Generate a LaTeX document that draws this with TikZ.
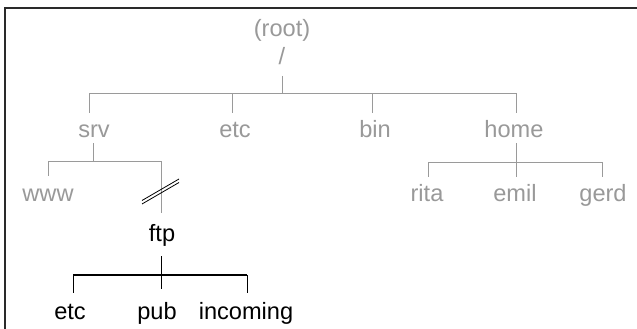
\documentclass[tikz,border=0pt]{standalone}
\usepackage{fontspec}
\setmainfont{Liberation Sans}
\definecolor{tgray}{HTML}{999999}
\definecolor{lgray}{HTML}{9A9A9A}
\definecolor{frame}{HTML}{2A2A2A}
\begin{document}
\begin{tikzpicture}[x=1pt,y=-1pt,
  lbl/.style={anchor=base,inner sep=0pt,font=\fontsize{23.6}{24}\selectfont},
  glbl/.style={lbl,text=tgray},
  blbl/.style={lbl,text=black},
  gl/.style={draw=lgray,line width=0.9pt},
  bl/.style={draw=black,line width=0.9pt},
  bbus/.style={draw=black,line width=1.8pt}]
\useasboundingbox (0,0) rectangle (637,329);
\fill[white] (0,0) rectangle (637,329);
% frame
\draw[frame,line width=1.6pt] (640,8) -- (5,8) -- (5,335);
% labels
\node[glbl] (root) at (282,37) {(root)};
\node[glbl] (slash) at (282,64) {/};
\node[glbl] (srv) at (94,137) {srv};
\node[glbl] (etc1) at (235,137) {etc};
\node[glbl] (bin) at (375,137) {bin};
\node[glbl] (home) at (514,137) {home};
\node[glbl] (www) at (48,201) {www};
\node[glbl] (rita) at (427,201) {rita};
\node[glbl] (emil) at (515,201) {emil};
\node[glbl] (gerd) at (603,201) {gerd};
\node[blbl] (ftp) at (162,241) {ftp};
\node[blbl] (etc2) at (70,319) {etc};
\node[blbl] (pub) at (157,319) {pub};
\node[blbl] (incoming) at (246,319) {incoming};
% junction coordinates
\coordinate (rS) at (282,76);
\coordinate (rJ) at (282,93);
\coordinate (b1L) at (89,93);
\coordinate (b1R) at (516,93);
\coordinate (srvT) at (89,113);
\coordinate (etcT) at (232.5,93);
\coordinate (etcB) at (232.5,113);
\coordinate (binT) at (372,93);
\coordinate (binB) at (372,113);
\coordinate (homeT) at (516,113);
\coordinate (srvS) at (93,143);
\coordinate (srvJ) at (93,161);
\coordinate (b2L) at (48,161);
\coordinate (b2R) at (161,161);
\coordinate (wwwT) at (48,176);
\coordinate (ftpT) at (161,213);
\coordinate (homeS) at (516,143);
\coordinate (homeE) at (516,177);
\coordinate (b3L) at (428,162);
\coordinate (b3R) at (602,162);
\coordinate (ritaT) at (428,177);
\coordinate (gerdT) at (602,177);
\coordinate (ftpS) at (161,256);
\coordinate (ftpE) at (161,289);
\coordinate (b4L) at (73,275);
\coordinate (b4R) at (247,275);
\coordinate (etc2T) at (73,293);
\coordinate (incT) at (247,293);
% gray connectors
\draw[gl] (rS) -- (rJ);
\draw[gl] (b1L) -- (b1R);
\draw[gl] (b1L) -- (srvT);
\draw[gl] (etcT) -- (etcB);
\draw[gl] (binT) -- (binB);
\draw[gl] (b1R) -- (homeT);
\draw[gl] (srvS) -- (srvJ);
\draw[gl] (b2L) -- (b2R);
\draw[gl] (b2L) -- (wwwT);
\draw[gl] (b2R) -- (ftpT);
\draw[gl] (homeS) -- (homeE);
\draw[gl] (b3L) -- (b3R);
\draw[gl] (b3L) -- (ritaT);
\draw[gl] (b3R) -- (gerdT);
% break mark
\coordinate (k1a) at (142,200.5);
\coordinate (k1b) at (179,179);
\coordinate (k2a) at (142,204);
\coordinate (k2b) at (179,182.5);
\draw[bl,line width=0.8pt] (k1a) -- (k1b);
\draw[bl,line width=0.8pt] (k2a) -- (k2b);
% black connectors
\draw[bl] (ftpS) -- (ftpE);
\draw[bbus] (b4L) -- (b4R);
\draw[bl] (b4L) -- (etc2T);
\draw[bl] (b4R) -- (incT);
\end{tikzpicture}
\end{document}
